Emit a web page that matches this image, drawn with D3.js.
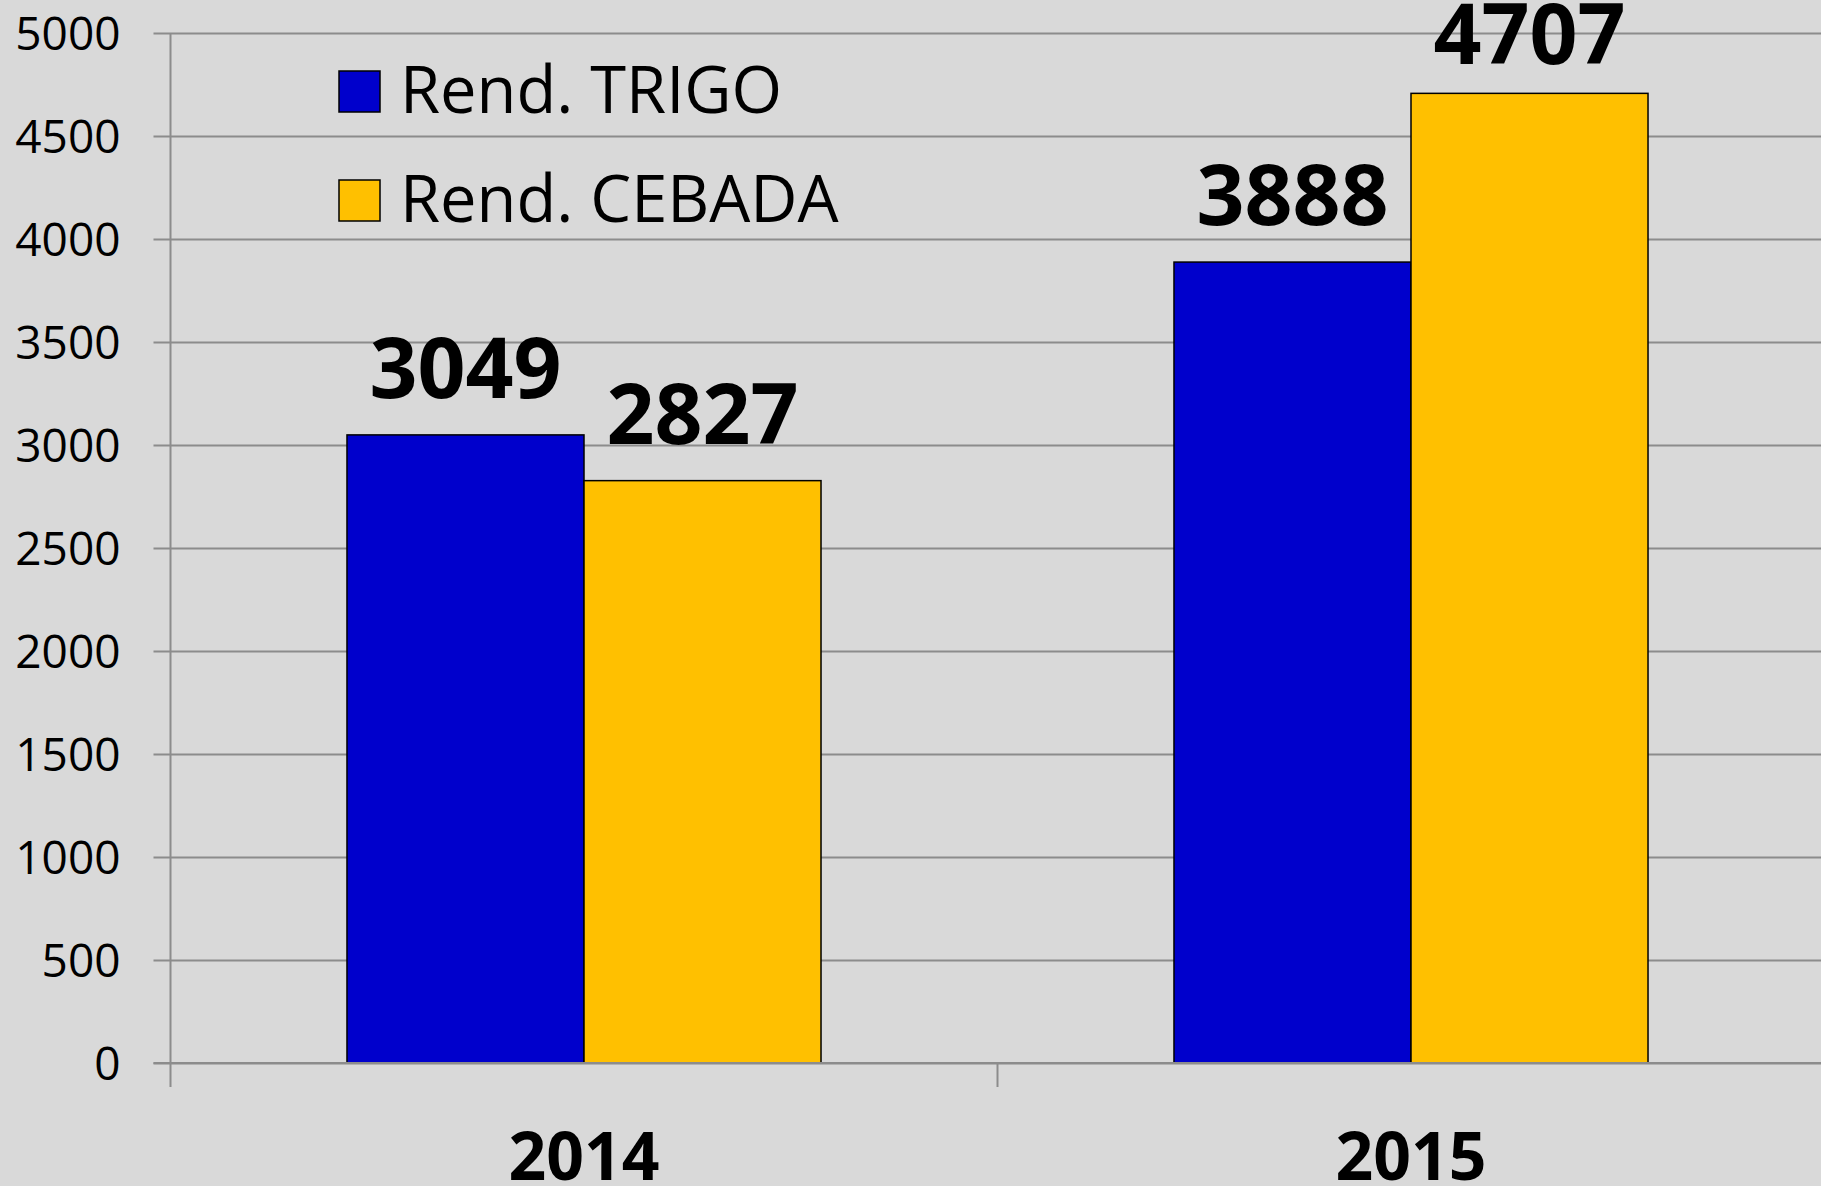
<!DOCTYPE html>
<html>
<head>
<meta charset="utf-8">
<script src="https://cdn.jsdelivr.net/npm/d3@7"></script>
<style>
  html, body { margin: 0; padding: 0; background: #D9D9D9; overflow: hidden; }
  svg { display: block; }
</style>
</head>
<body>
<svg id="chart" width="1821" height="1186"></svg>
<script>
// ---- data ----
const categories = ["2014", "2015"];
const seriesNames = ["Rend. TRIGO", "Rend. CEBADA"];
const trigo = [3049, 3888];
const cebada = [2827, 4707];
const yTicks = [0, 500, 1000, 1500, 2000, 2500, 3000, 3500, 4000, 4500, 5000];
const colors = ["#0000CC", "#FFC000"];

const seriesValues = [trigo, cebada];
const rows = categories.map((c, i) => ({
  cat: c,
  vals: seriesNames.map((s, j) => ({ series: s, idx: j, value: seriesValues[j][i] }))
}));

// ---- layout ----
const W = 1821, H = 1186;
const mLeft = 170.5, mRight = 1824.5, mTop = 33, mBottom = 1063;
const svg = d3.select("#chart");
svg.append("rect").attr("width", W).attr("height", H).attr("fill", "#D9D9D9");

const y = d3.scaleLinear().domain([0, 5000]).range([mBottom, mTop]);
const x0 = d3.scaleBand().domain(categories).range([mLeft, mRight]).paddingInner(0).paddingOuter(0);
const bw = x0.bandwidth();
const x1 = d3.scaleBand().domain(seriesNames).range([bw * 0.2134, bw * 0.7866]).padding(0);

const gridColor = "#8C8C8C";
const font = "'Open Sans', 'Noto Sans', sans-serif";

// y axis with gridlines
const yAxis = d3.axisLeft(y).tickValues(yTicks).tickFormat(d3.format("d"))
  .tickSizeOuter(0).tickSizeInner(0).tickPadding(0);
const yg = svg.append("g").attr("transform", `translate(${mLeft},0)`).call(yAxis);
yg.select(".domain").remove();
yg.selectAll(".tick line")
  .attr("x1", -17).attr("x2", mRight - mLeft)
  .attr("stroke", gridColor).attr("stroke-width", 2);
yg.selectAll(".tick text")
  .attr("x", -50).attr("dy", "0.36em")
  .attr("text-anchor", "end")
  .style("font-family", font).style("font-size", "46px").attr("fill", "#000");

// vertical axis line
svg.append("line")
  .attr("x1", mLeft).attr("x2", mLeft).attr("y1", mTop).attr("y2", mBottom + 24)
  .attr("stroke", gridColor).attr("stroke-width", 2);

// category boundary ticks
const boundaries = categories.map(c => x0(c)).concat([x0(categories[categories.length - 1]) + bw]);
svg.selectAll("line.ctick").data(boundaries.slice(1)).enter().append("line")
  .attr("class", "ctick")
  .attr("x1", d => d).attr("x2", d => d)
  .attr("y1", mBottom).attr("y2", mBottom + 24)
  .attr("stroke", gridColor).attr("stroke-width", 2);

// bars
const groups = svg.selectAll("g.grp").data(rows).enter().append("g")
  .attr("class", "grp")
  .attr("transform", d => `translate(${x0(d.cat)},0)`);

groups.selectAll("rect").data(d => d.vals).enter().append("rect")
  .attr("x", d => x1(d.series))
  .attr("width", x1.bandwidth())
  .attr("y", d => y(d.value))
  .attr("height", d => y(0) - y(d.value))
  .attr("fill", d => colors[d.idx])
  .attr("stroke", "#000").attr("stroke-width", 1.5);

// data labels
groups.selectAll("text.lbl").data(d => d.vals).enter().append("text")
  .attr("class", "lbl")
  .attr("x", d => x1(d.series) + x1.bandwidth() / 2)
  .attr("y", d => Math.max(y(d.value) - 37, 64))
  .attr("text-anchor", "middle")
  .style("font-family", font).style("font-weight", "bold").style("font-size", "84px")
  .attr("fill", "#000")
  .text(d => d.value);

// baseline (drawn over bars)
svg.append("line")
  .attr("x1", mLeft - 17).attr("x2", mRight).attr("y1", mBottom).attr("y2", mBottom)
  .attr("stroke", gridColor).attr("stroke-width", 2);

// category labels
svg.selectAll("text.cat").data(categories).enter().append("text")
  .attr("class", "cat")
  .attr("x", d => x0(d) + bw / 2)
  .attr("y", 1180)
  .attr("text-anchor", "middle")
  .style("font-family", font).style("font-weight", "bold").style("font-size", "66px")
  .attr("fill", "#000")
  .text(d => d);

// legend
const legend = svg.append("g");
const legendY = [71, 180];
seriesNames.forEach((s, i) => {
  legend.append("rect")
    .attr("x", 339).attr("y", legendY[i]).attr("width", 41).attr("height", 41)
    .attr("fill", colors[i]).attr("stroke", "#000").attr("stroke-width", 1.5);
  legend.append("text")
    .attr("x", 400).attr("y", legendY[i] + 42)
    .style("font-family", font).style("font-size", "65px").attr("fill", "#000")
    .text(s);
});
</script>
</body>
</html>
